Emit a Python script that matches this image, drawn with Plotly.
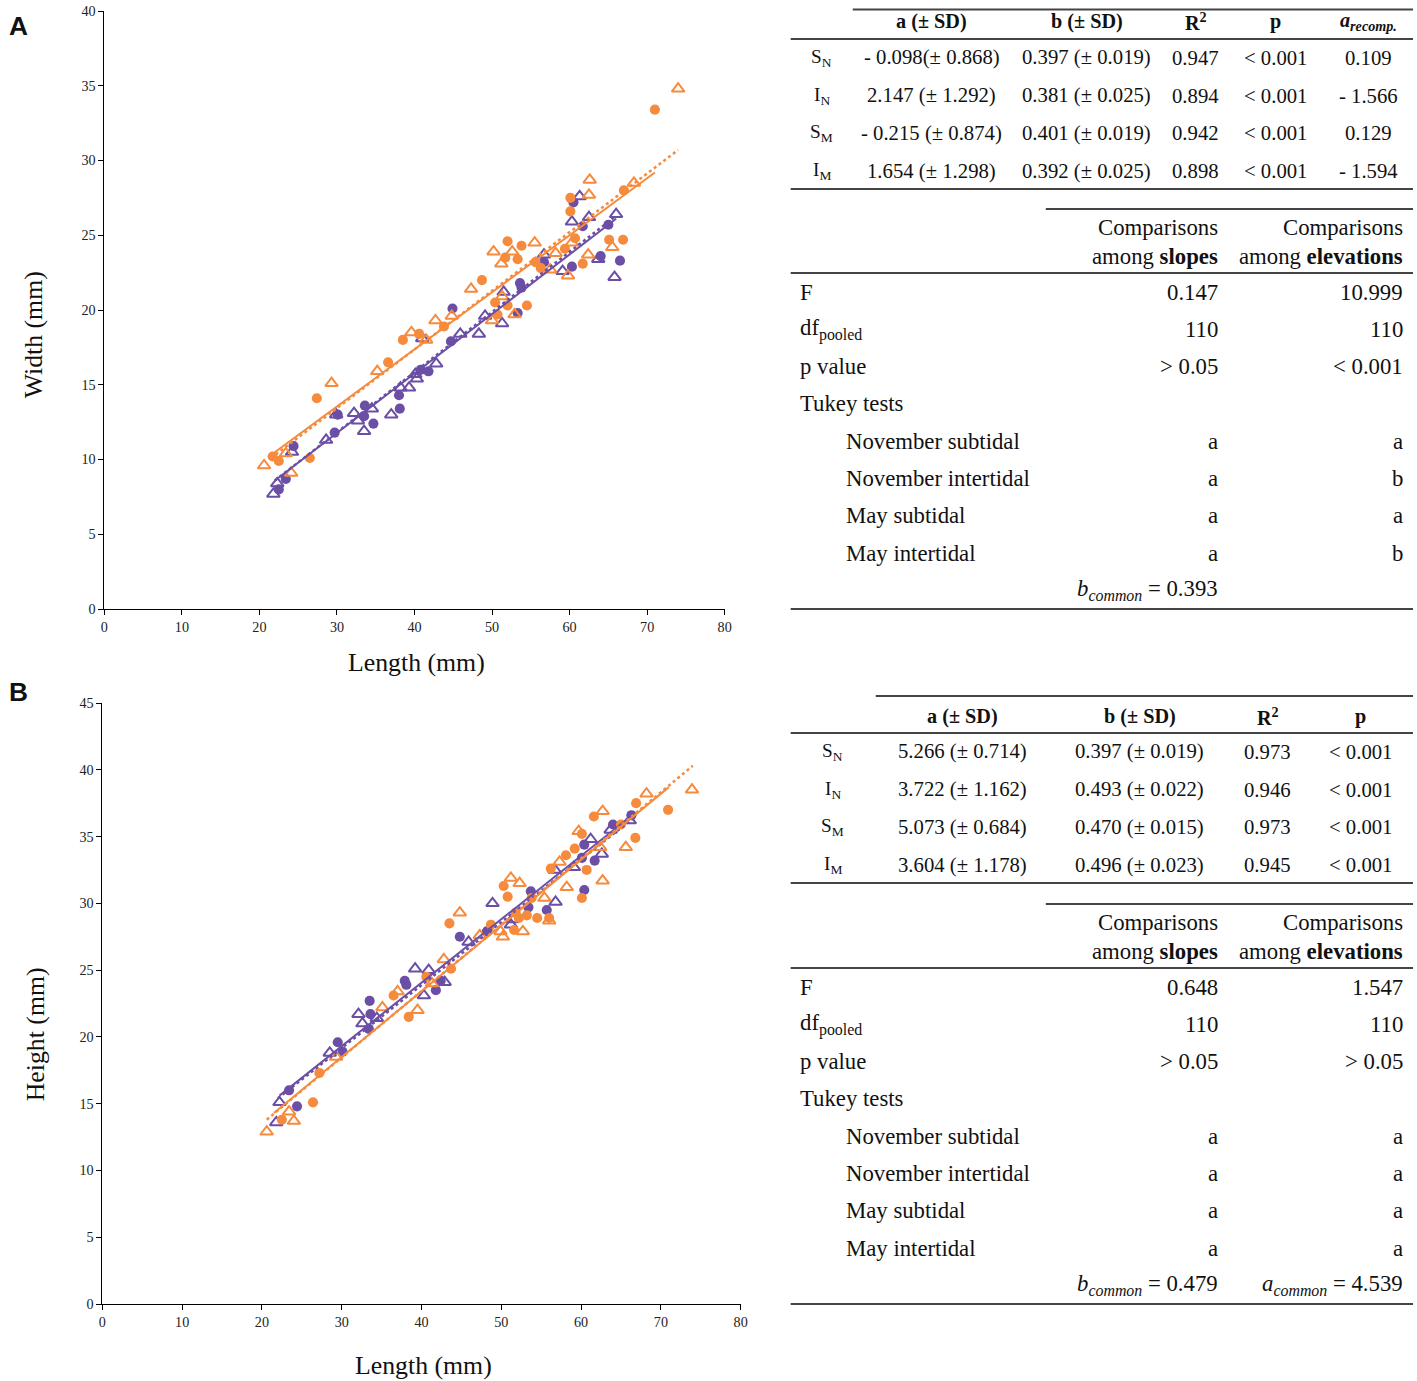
import plotly.graph_objects as go

W, H = 1417, 1381
# the photographed page ends up inset and slightly shrunk, so layout positions are
# given in reference pixels and mapped through the visible box measured earlier
XL, XW = 3.7, 1405.3
YT, YH = 8, 1365
K = W / 1401  # size compensation for fonts and markers
ORANGE = "#F68B3D"
PURPLE = "#6B4EA6"
RULE = "#444444"
SERIF = "Liberation Serif"

# Panel A - width vs length (S = subtidal, I = intertidal, N = November, M = May)
a_sn_x = [60.5, 61.7, 65.0, 66.5, 64.0, 60.3, 56.7, 53.6, 53.8, 44.9, 53.3, 44.7, 41.8, 40.8,
          38.0, 38.1, 33.6, 33.5, 34.7, 30.1, 29.7, 24.4, 23.4, 22.5]
a_sn_y = [27.2, 25.6, 25.7, 23.3, 23.6, 22.9, 23.2, 21.8, 21.5, 20.1, 19.8, 17.9, 15.9, 16.0,
          14.3, 13.4, 13.6, 12.9, 12.4, 13.0, 11.8, 10.9, 8.7, 8.0]
a_sm_x = [61.3, 60.3, 62.5, 66.0, 65.8, 63.7, 59.1, 56.7, 51.5, 51.3, 49.1, 48.3, 45.9, 41.0,
          42.8, 40.1, 40.3, 39.3, 38.2, 37.0, 34.5, 32.2, 32.7, 33.5, 29.9, 28.6, 24.2, 22.3, 21.8]
a_sm_y = [27.6, 25.9, 26.2, 26.4, 22.2, 23.4, 22.6, 23.7, 21.2, 19.1, 19.6, 18.4, 18.4, 18.1,
          16.4, 15.7, 15.4, 14.8, 14.8, 13.0, 13.4, 13.1, 12.6, 11.9, 13.0, 11.3, 10.5, 8.4, 7.7]
a_in_x = [71.0, 67.0, 60.1, 60.1, 60.7, 65.1, 66.9, 61.7, 59.4, 52.0, 53.8, 51.7, 53.3, 55.6,
          56.3, 48.7, 50.4, 54.5, 52.0, 50.7, 43.8, 38.5, 40.6, 36.6, 27.4, 26.5, 21.7, 22.5]
a_in_y = [33.4, 28.0, 27.5, 26.6, 24.8, 24.7, 24.7, 23.1, 24.1, 24.6, 24.3, 23.5, 23.4, 23.2,
          22.8, 22.0, 20.5, 20.3, 20.3, 19.7, 18.9, 18.0, 18.4, 16.5, 14.1, 10.1, 10.2, 9.9]
a_im_x = [74.0, 62.6, 62.5, 68.3, 60.3, 65.5, 62.4, 59.8, 58.2, 55.5, 50.2, 52.6, 51.2, 57.5,
          47.3, 51.3, 50.0, 52.9, 42.7, 44.8, 39.6, 41.5, 35.2, 29.3, 23.4, 20.6, 24.1]
a_im_y = [34.8, 28.7, 27.7, 28.5, 24.5, 24.2, 23.7, 22.3, 23.8, 24.5, 23.9, 23.9, 23.1, 22.7,
          21.4, 20.9, 19.3, 19.7, 19.3, 19.6, 18.5, 18.0, 15.9, 15.1, 10.4, 9.6, 9.1]

# regression line end points, panel A
a_fit_sn = ([22.0, 66.0], [8.6, 26.1])
a_fit_sm = ([22.0, 66.0], [8.6, 26.3])
a_fit_in = ([21.5, 71.0], [10.3, 29.2])
a_fit_im = ([21.5, 74.0], [10.1, 30.7])

# Panel B - height vs length
b_sn_x = [66.3, 64.0, 60.4, 60.1, 61.7, 60.4, 53.7, 53.4, 55.7, 44.8, 48.2, 37.9, 38.1, 41.8,
          42.4, 33.5, 33.6, 33.4, 29.5, 30.1, 23.4, 24.4]
b_sn_y = [36.6, 35.9, 34.4, 33.4, 33.2, 31.0, 30.9, 29.7, 29.5, 27.5, 27.9, 24.2, 23.9, 23.5,
          24.2, 22.7, 21.7, 20.6, 19.6, 18.9, 16.0, 14.8]
b_sm_x = [66.1, 63.7, 61.2, 62.6, 59.1, 56.7, 56.8, 48.9, 45.9, 51.2, 51.4, 39.2, 40.9, 40.3,
          42.9, 32.1, 34.4, 32.6, 28.5, 22.2, 21.8]
b_sm_y = [36.2, 35.5, 34.8, 33.7, 32.7, 32.5, 30.1, 30.0, 27.1, 28.4, 28.8, 25.1, 25.0, 23.1,
          24.1, 21.7, 21.4, 21.0, 18.8, 15.1, 13.6]
b_in_x = [70.9, 66.9, 66.8, 65.0, 61.6, 60.1, 59.2, 58.1, 56.2, 60.7, 60.1, 50.3, 50.8, 53.8,
          53.2, 54.5, 56.0, 43.5, 48.7, 51.8, 51.6, 52.2, 43.7, 40.6, 36.5, 38.4, 27.2, 26.4, 22.5]
b_in_y = [37.0, 37.5, 34.9, 35.9, 36.5, 35.2, 34.1, 33.6, 32.6, 32.5, 30.4, 31.3, 30.5, 30.4,
          29.1, 28.9, 28.9, 28.5, 28.4, 29.3, 28.0, 28.9, 25.1, 24.5, 23.1, 21.5, 17.3, 15.1, 13.8]
b_im_x = [73.9, 68.2, 65.6, 62.7, 59.7, 62.4, 57.3, 62.7, 58.2, 51.2, 52.3, 55.4, 44.8, 56.0,
          47.3, 49.9, 50.2, 52.7, 42.8, 37.0, 41.3, 39.5, 35.1, 29.3, 23.4, 24.0, 20.6]
b_im_y = [38.5, 38.2, 34.2, 36.9, 35.4, 34.2, 33.1, 31.7, 31.2, 31.9, 31.5, 30.4, 29.3, 28.7,
          27.6, 27.9, 27.5, 27.9, 25.8, 23.4, 24.0, 22.0, 22.2, 18.5, 14.4, 13.7, 12.9]

b_fit_sn = ([22.2, 66.4], [15.6, 36.6])
b_fit_sm = ([22.0, 66.6], [15.4, 36.4])
b_fit_in = ([21.5, 71.0], [14.3, 38.7])
b_fit_im = ([20.6, 74.0], [13.8, 40.3])

# tables
group_labels = ["S<sub>N</sub>", "I<sub>N</sub>", "S<sub>M</sub>", "I<sub>M</sub>"]
tab_a_a = ["- 0.098(± 0.868)", "2.147 (± 1.292)", "- 0.215 (± 0.874)", "1.654 (± 1.298)"]
tab_a_b = ["0.397 (± 0.019)", "0.381 (± 0.025)", "0.401 (± 0.019)", "0.392 (± 0.025)"]
tab_a_r2 = ["0.947", "0.894", "0.942", "0.898"]
tab_a_p = ["&lt; 0.001", "&lt; 0.001", "&lt; 0.001", "&lt; 0.001"]
tab_a_recomp = ["0.109", "- 1.566", "0.129", "- 1.594"]

tab_b_a = ["5.266 (± 0.714)", "3.722 (± 1.162)", "5.073 (± 0.684)", "3.604 (± 1.178)"]
tab_b_b = ["0.397 (± 0.019)", "0.493 (± 0.022)", "0.470 (± 0.015)", "0.496 (± 0.023)"]
tab_b_r2 = ["0.973", "0.946", "0.973", "0.945"]
tab_b_p = ["&lt; 0.001", "&lt; 0.001", "&lt; 0.001", "&lt; 0.001"]

cmp_labels = ["F", "df<sub>pooled</sub>", "p value", "Tukey tests",
              "November subtidal", "November intertidal", "May subtidal", "May intertidal"]
cmp_a_slopes = ["0.147", "110", "&gt; 0.05", "", "a", "a", "a", "a"]
cmp_a_elev = ["10.999", "110", "&lt; 0.001", "", "a", "b", "a", "b"]
cmp_b_slopes = ["0.648", "110", "&gt; 0.05", "", "a", "a", "a", "a"]
cmp_b_elev = ["1.547", "110", "&gt; 0.05", "", "a", "a", "a", "a"]
common_a = ["<i>b<sub>common</sub></i> = 0.393", ""]
common_b = ["<i>b<sub>common</sub></i> = 0.479", "<i>a<sub>common</sub></i> = 4.539"]


# reference pixel -> paper coordinates
def px(x):
    return (x - XL) / XW


def py(y):
    return 1 - (y - YT) / YH


fig = go.Figure()


def add_panel(xa, ya, pts, fits):
    styles = [(PURPLE, "circle", "solid"), (PURPLE, "triangle-up-open", "dot"),
              (ORANGE, "circle", "solid"), (ORANGE, "triangle-up-open", "dot")]
    names = ["S_N", "S_M", "I_N", "I_M"]
    for (x, y), (col, sym, dash), name in zip(pts, styles, names):
        if sym == "circle":
            mk = dict(symbol=sym, size=10 * K, color=col, line=dict(width=0))
        else:
            mk = dict(symbol=sym, size=11 * K, color=col, line=dict(width=2, color=col))
        fig.add_trace(go.Scatter(x=x, y=y, mode="markers", marker=mk, name=name,
                                 xaxis=xa, yaxis=ya))
    for (fx, fy), (col, sym, dash), name in zip(fits, styles, names):
        fig.add_trace(go.Scatter(x=fx, y=fy, mode="lines", name=name + " fit",
                                 line=dict(color=col, width=2.5 if dash == "dot" else 2, dash=dash),
                                 xaxis=xa, yaxis=ya))


add_panel("x", "y",
          [(a_sn_x, a_sn_y), (a_sm_x, a_sm_y), (a_in_x, a_in_y), (a_im_x, a_im_y)],
          [a_fit_sn, a_fit_sm, a_fit_in, a_fit_im])
add_panel("x2", "y2",
          [(b_sn_x, b_sn_y), (b_sm_x, b_sm_y), (b_in_x, b_in_y), (b_im_x, b_im_y)],
          [b_fit_sn, b_fit_sm, b_fit_in, b_fit_im])

ax = dict(showgrid=False, zeroline=False, showline=True, linecolor="black", linewidth=1,
          ticks="outside", ticklen=5, tickcolor="black", mirror=False,
          tickfont=dict(family=SERIF, size=14 * K, color="#222222"))

fig.update_layout(
    width=W, height=H, margin=dict(l=0, r=0, t=0, b=0),
    paper_bgcolor="white", plot_bgcolor="white", showlegend=False,
    font=dict(family=SERIF, color="black"),
    xaxis=dict(domain=[px(104), px(724)], range=[0, 80], dtick=10, anchor="y", **ax),
    yaxis=dict(domain=[py(609), py(11)], range=[0, 40], dtick=5, anchor="x", **ax),
    xaxis2=dict(domain=[px(102), px(740)], range=[0, 80], dtick=10, anchor="y2", **ax),
    yaxis2=dict(domain=[py(1304), py(703)], range=[0, 45], dtick=5, anchor="x2", **ax),
)

anns = []


def txt(x, y, s, size=18, anchor="center", family=SERIF, angle=0):
    anns.append(dict(x=px(x), y=py(y), xref="paper", yref="paper", text=s, showarrow=False,
                     xanchor=anchor, yanchor="middle", textangle=angle,
                     font=dict(family=family, size=size * K, color="#111111")))


def rule(x0, x1, y, w=2):
    fig.add_shape(type="line", xref="paper", yref="paper", x0=px(x0), x1=px(x1),
                  y0=py(y), y1=py(y), line=dict(color=RULE, width=w))


# panel letters and axis titles
txt(18, 26, "<b>A</b>", size=26, family="Liberation Sans")
txt(18, 692, "<b>B</b>", size=26, family="Liberation Sans")
txt(416, 662, "Length (mm)", size=25.5)
txt(423, 1365, "Length (mm)", size=25.5)
txt(33, 335, "Width (mm)", size=25.5, angle=-90)
txt(35, 1034, "Height (mm)", size=25.5, angle=-90)


def stats_table(top, cols, header, columns):
    # regression coefficients table
    rule(header[0], 1412, max(top + 2, YT + 1.5))
    for xc, h in zip(cols[1:], header[1]):
        txt(xc, top + 22, "<b>" + h + "</b>", size=20)
    rule(790, 1412, top + 39)
    for i, lab in enumerate(group_labels):
        yy = top + 58 + i * 37.7
        txt(cols[0], yy, lab, size=19)
        for xc, col in zip(cols[1:], columns):
            txt(xc, yy, col[i], size=20.5)
    rule(790, 1412, top + 189)


def cmp_table(top, slopes, elev, common):
    # slope / elevation comparison table
    fs = 22.5
    rule(1045, 1412, top)
    txt(1219, top + 19, "Comparisons", size=fs, anchor="right")
    txt(1219, top + 47, "among <b>slopes</b>", size=fs, anchor="right")
    txt(1404, top + 19, "Comparisons", size=fs, anchor="right")
    txt(1404, top + 47, "among <b>elevations</b>", size=fs, anchor="right")
    rule(790, 1412, top + 64)
    for i, lab in enumerate(cmp_labels):
        yy = top + 83 + i * 37.3
        txt(843 if i >= 4 else 797, yy, lab, size=fs, anchor="left")
        if slopes[i]:
            txt(1219, yy, slopes[i], size=fs, anchor="right")
        if elev[i]:
            txt(1404, yy, elev[i], size=fs, anchor="right")
    yy = top + 83 + 8 * 37.3
    txt(1219, yy, common[0], size=fs, anchor="right")
    if common[1]:
        txt(1404, yy, common[1], size=fs, anchor="right")
    rule(790, 1412, top + 400)


stats_table(0, [821, 931, 1086, 1195, 1275, 1368],
            (852, ["a (± SD)", "b (± SD)", "R<sup>2</sup>", "p", "<i>a<sub>recomp.</sub></i>"]),
            [tab_a_a, tab_a_b, tab_a_r2, tab_a_p, tab_a_recomp])
cmp_table(209, cmp_a_slopes, cmp_a_elev, common_a)

stats_table(694, [832, 962, 1139, 1267, 1360],
            (875, ["a (± SD)", "b (± SD)", "R<sup>2</sup>", "p"]),
            [tab_b_a, tab_b_b, tab_b_r2, tab_b_p])
cmp_table(904, cmp_b_slopes, cmp_b_elev, common_b)

fig.update_layout(annotations=anns)
fig.write_html("out.html", config={"displayModeBar": False},
               post_script="document.body.style.margin='0';")
